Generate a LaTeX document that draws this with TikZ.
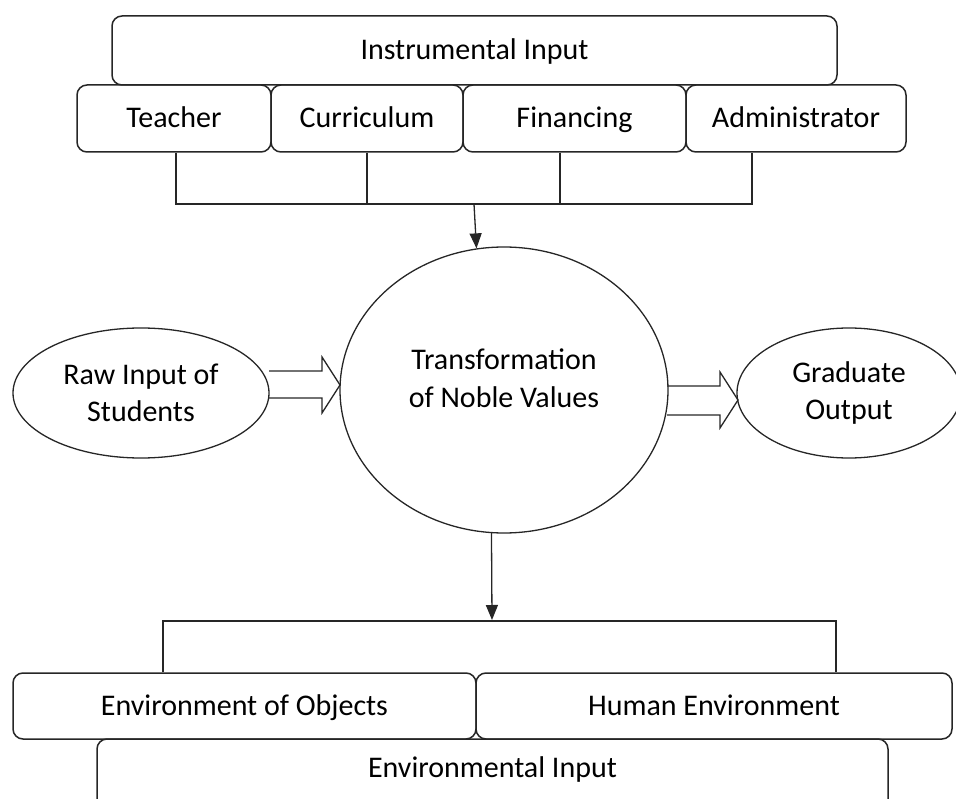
\documentclass[tikz,border=0pt]{standalone}
\usepackage{fontspec}
\setmainfont{Carlito}
\usetikzlibrary{arrows.meta,shapes.geometric}
\begin{document}
\begin{tikzpicture}[x=1pt,y=-1pt,
  box/.style={draw=black!85, rounded corners=10pt, inner sep=0pt, line width=1.5pt,
    font=\fontsize{30}{37.5}\selectfont, text height=19pt, text depth=0pt},
  oval/.style={draw=black!85, ellipse, inner sep=0pt, line width=1.3pt,
    font=\fontsize{30}{37.5}\selectfont, align=center},
  txt/.style={font=\fontsize{30}{37.5}\selectfont, align=center, inner sep=0pt},
  link/.style={draw=black!85, line width=1.5pt},
  arr/.style={draw=black!85, line width=1.3pt, -{Triangle[length=15pt,width=12pt]}},
  blockarrow/.style={draw=black!85, line width=1.3pt, line join=miter}
]
\useasboundingbox (0,0) rectangle (956,799);
\clip (0,0) rectangle (956,799);

% top: instrumental input
\node[box, minimum width=725pt, minimum height=69pt] (instr) at (474.5,50.5) {Instrumental Input};
\node[box, minimum width=194pt, minimum height=67pt] (teacher) at (174,118.5) {Teacher};
\node[box, minimum width=192pt, minimum height=67pt] (curr) at (367,118.5) {Curriculum};
\node[box, minimum width=223pt, minimum height=67pt] (fin) at (574.5,118.5) {Financing};
\node[box, minimum width=220pt, minimum height=67pt] (admin) at (796,118.5) {Administrator};

\coordinate (b1) at (176,204);
\coordinate (b2) at (367,204);
\coordinate (b3) at (560,204);
\coordinate (b4) at (752,204);
\coordinate (ut) at (474,204);

\draw[link] (teacher.south -| b1) -- (b1) -- (b4) -- (admin.south -| b4);
\draw[link] (curr.south -| b2) -- (b2);
\draw[link] (fin.south -| b3) -- (b3);

% middle
\node[oval, minimum width=328pt, minimum height=286pt] (trans) at (504,390) {};
\node[txt] (transtxt) at (504,378) {Transformation\\of Noble Values};
\node[oval, minimum width=256pt, minimum height=130pt] (raw) at (141,393) {Raw Input of\\Students};
\node[oval, minimum width=224pt, minimum height=130pt] (grad) at (849,393) {Graduate\\Output};

\draw[arr] (ut) -- (trans.101);

\draw[blockarrow] (269,371) -- (322,371) -- (322,357) -- (340,385) -- (322,413) -- (322,398) -- (269,398);
\draw[blockarrow] (667,386) -- (720,386) -- (720,372) -- (738,400) -- (720,428) -- (720,415) -- (667,415);

% bottom: environmental input
\node[box, minimum width=791pt, minimum height=71pt] (envin) at (492.5,774.5) {};
\node[txt, text height=19pt, text depth=6pt] (envintxt) at (492.5,770.5) {Environmental Input};
\node[box, minimum width=463pt, minimum height=66pt] (envobj) at (244.5,706) {Environment of Objects};
\node[box, minimum width=476pt, minimum height=66pt] (human) at (714,706) {Human Environment};

\coordinate (bl) at (163,621);
\coordinate (br) at (836,621);
\coordinate (dt) at (492,620);
\draw[link] (envobj.north -| bl) -- (bl) -- (br) -- (human.north -| br);
\draw[arr] (trans.265) -- (dt);
\end{tikzpicture}
\end{document}
